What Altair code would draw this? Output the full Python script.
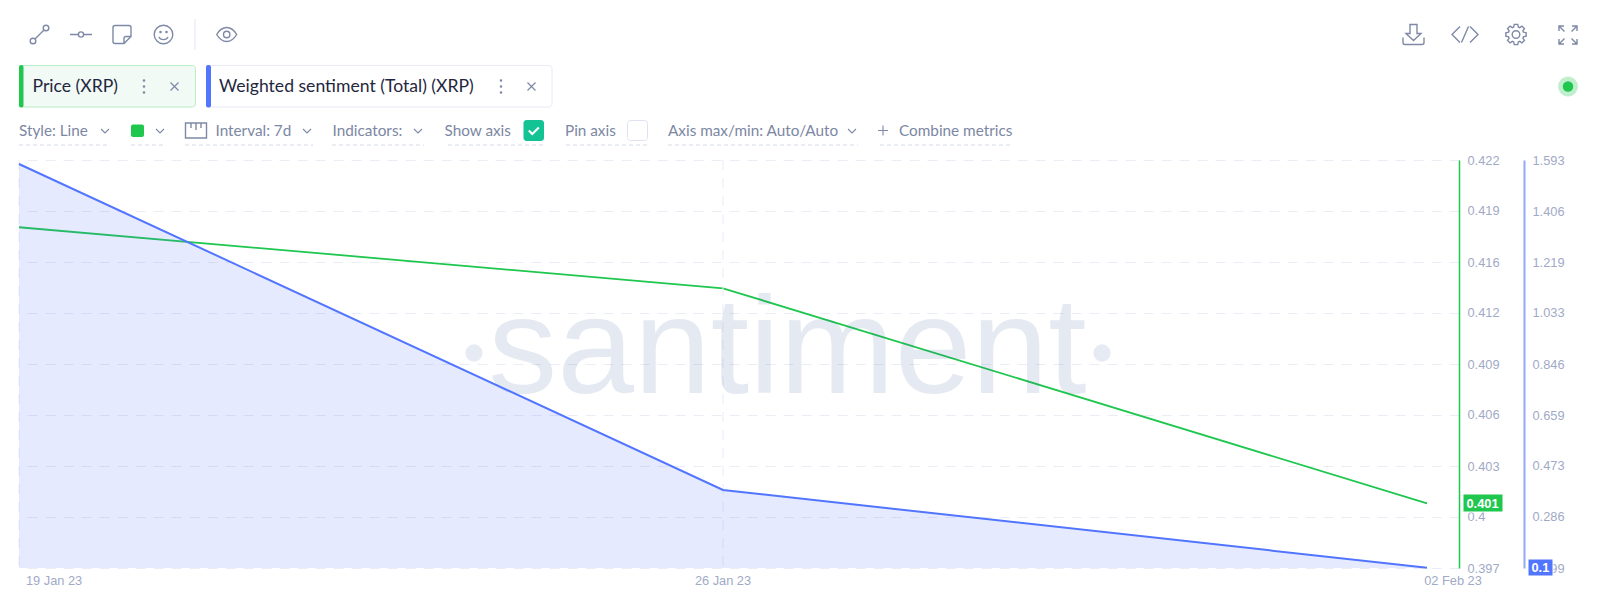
import math
import altair as alt
import pandas as pd

# ---------- data ----------
dates = ["2023-01-19T00:00:00Z", "2023-01-26T00:00:00Z", "2023-02-02T00:00:00Z"]
date_labels = ["19 Jan 23", "26 Jan 23", "02 Feb 23"]
price = [0.41768, 0.41394, 0.40076]
sentiment = [1.5784, 0.3846, 0.1]
price_ticks = [0.39680, 0.39993, 0.40305, 0.40618, 0.40930, 0.41243, 0.41555, 0.41868, 0.42180]
sentiment_ticks = [0.099, 0.286, 0.473, 0.659, 0.846, 1.033, 1.219, 1.406, 1.593]
price_last_label = "0.401"
sentiment_last_label = "0.1"

df = pd.DataFrame({"date": dates, "label": date_labels, "price": price, "sentiment": sentiment,
                   "base": [sentiment_ticks[0]] * len(dates)})
grid_df = pd.DataFrame({"date": dates[:2]})

GREEN = "#1fc74f"
BLUE = "#5275ff"
AXIS_TEXT = "#9faac6"
UI_TEXT = "#7c87a3"
DARK_TEXT = "#1f2740"
ICON = "#7e89a6"
GRID = "#eaecf6"
FONT = "Lato"
AXIS_FONT = "Liberation Sans"

OX, OY = 19, 160  # plot origin in reference pixels
W, H = 1440, 408
one = alt.Data(values=[{}])


def dt(y, m, d, h=0, mi=0):
    return alt.DateTime(year=y, month=m, date=d, hours=h, minutes=mi, utc=True)


x_domain = [dt(2023, 1, 19), dt(2023, 2, 2, 7, 38)]
x_scale = alt.Scale(type="utc", domain=x_domain)
x_none = alt.X("date:T", scale=x_scale, axis=None)
price_scale = alt.Scale(domain=[price_ticks[0], price_ticks[-1]], zero=False, nice=False)
sent_scale = alt.Scale(domain=[sentiment_ticks[0], sentiment_ticks[-1]], zero=False, nice=False)


# ---------- helpers for the surrounding app chrome ----------
def txt(x, y, s, color=UI_TEXT, size=15.3, font=FONT, align="left", **kw):
    return alt.Chart(one).mark_text(
        align=align, baseline="middle", font=font, fontSize=size, color=color, **kw
    ).encode(x=alt.value(x - OX), y=alt.value(y - OY), text=alt.value(s))


def box(x0, y0, x1, y1, fill="#ffffff", stroke=None, r=0, sw=1):
    kw = {"cornerRadius": r} if r else {}
    if stroke:
        kw.update(stroke=stroke, strokeWidth=sw)
    return alt.Chart(one).mark_rect(fill=fill, **kw).encode(
        x=alt.value(x0 - OX), x2=alt.value(x1 - OX),
        y=alt.value(y0 - OY), y2=alt.value(y1 - OY),
    )


def icon(x, y, path, color=ICON, sw=1.4, fill=None):
    kw = {"fill": fill, "filled": True} if fill else {"filled": False}
    return alt.Chart(one).mark_point(
        shape=path, size=4, stroke=color, strokeWidth=sw, opacity=1, **kw
    ).encode(x=alt.value(x - OX), y=alt.value(y - OY))


def dash(x0, x1, y=145):
    return alt.Chart(one).mark_rule(
        color="#d6daea", strokeWidth=1, strokeDash=[4, 3]
    ).encode(x=alt.value(x0 - OX), x2=alt.value(x1 - OX), y=alt.value(y - OY))


def c(x, y, r):
    return f"M{x - r} {y}a{r} {r} 0 1 0 {2 * r} 0a{r} {r} 0 1 0 {-2 * r} 0Z"


def gear(ro=10.3, ri=7.8, n=8):
    pts = []
    step = 2 * math.pi / n
    for i in range(n):
        a = i * step
        for da, r in ((-0.30, ri), (-0.17, ro), (0.17, ro), (0.30, ri)):
            pts.append((r * math.cos(a + da), r * math.sin(a + da)))
    return "M" + "L".join(f"{p[0]:.2f} {p[1]:.2f}" for p in pts) + "Z" + c(0, 0, 3.8)


CHEV = "M-4 -2L0 2L4 -2"
CROSS = "M-4 -4L4 4M4 -4L-4 4"
DOTS = c(0, -6, 0.6) + c(0, 0, 0.6) + c(0, 6, 0.6)

chrome = [
    # toolbar
    icon(39.5, 34.5, c(6.5, -6.5, 2.8) + c(-6.5, 6.5, 2.8) + "M-4.5 4.5L4.5 -4.5"),
    icon(81, 34.5, "M-11 0H-2.6M2.6 0H11" + c(0, 0, 2.6)),
    icon(122, 34.5, "M-7 -9H7a2 2 0 0 1 2 2V2L2 9H-7a2 2 0 0 1 -2 -2V-7a2 2 0 0 1 2 -2ZM9 2H4a2 2 0 0 0 -2 2V9"),
    icon(163.5, 34.5, c(0, 0, 9.3) + "M-4.5 2.5C-3 6 3 6 4.5 2.5" + c(-3, -2.5, 0.6) + c(3, -2.5, 0.6)),
    alt.Chart(one).mark_rule(color="#e4e7f1", strokeWidth=1).encode(
        x=alt.value(195 - OX), y=alt.value(19 - OY), y2=alt.value(50 - OY)),
    icon(226.7, 34.5, "M-10 0C-7 -5 -3 -7 0 -7S7 -5 10 0C7 5 3 7 0 7S-7 5 -10 0Z" + c(0, 0, 3.2)),
    icon(1413.5, 34.5, "M-3.5 -10H3.5V-1H7.5L0 6L-7.5 -1H-3.5ZM-10.5 3V8a2 2 0 0 0 2 2H8.5a2 2 0 0 0 2 -2V3"),
    icon(1465, 34.5, "M-5 -8L-13 0L-5 8M5 -8L13 0L5 8M3.5 -8L-3.5 8"),
    icon(1516, 34.5, gear()),
    icon(1568, 35, "M-9 -4V-9H-4M-9 -9L-3.5 -3.5M9 -4V-9H4M9 -9L3.5 -3.5M-9 4V9H-4M-9 9L-3.5 3.5M9 4V9H4M9 9L3.5 3.5"),
    # metric chips
    box(19.5, 65.5, 195.5, 107, fill="#f2faf6", stroke="#b6eec6", r=3, sw=1),
    box(19, 65, 23.5, 107.5, fill=GREEN, r=2),
    txt(32.5, 86.5, "Price (XRP)", color=DARK_TEXT, size=17.6),
    icon(144, 86.5, DOTS, sw=1.4),
    icon(174.5, 86.5, CROSS, sw=1.2),
    box(206.5, 65.5, 552, 107, fill="#ffffff", stroke="#e8eaf6", r=3, sw=1),
    box(206, 65, 211, 107.5, fill=BLUE, r=2),
    txt(219, 86.5, "Weighted sentiment (Total) (XRP)", color=DARK_TEXT, size=17.6),
    icon(501, 86.5, DOTS, sw=1.4),
    icon(531.5, 86.5, CROSS, sw=1.2),
    alt.Chart(one).mark_point(shape="circle", size=400, filled=True, color=GREEN, opacity=0.28).encode(
        x=alt.value(1568 - OX), y=alt.value(86.5 - OY)),
    alt.Chart(one).mark_point(shape="circle", size=110, filled=True, color=GREEN, opacity=1).encode(
        x=alt.value(1568 - OX), y=alt.value(86.5 - OY)),
    # settings row
    txt(19, 130.5, "Style: Line"),
    icon(105, 131, CHEV, sw=1.1),
    dash(19, 110),
    box(131, 124.5, 144, 137, fill=GREEN, r=2),
    icon(160, 131, CHEV, sw=1.1),
    dash(131, 165),
    icon(196, 130.5, "M-10.5 -7.5H10.5V7.5H-10.5ZM-5 -7.5V-2.5M0 -7.5V-0.5M5 -7.5V-2.5"),
    txt(215.5, 130.5, "Interval: 7d"),
    icon(307, 131, CHEV, sw=1.1),
    dash(185, 313),
    txt(332.5, 130.5, "Indicators:"),
    icon(418, 131, CHEV, sw=1.1),
    dash(332, 424),
    txt(444.5, 130.5, "Show axis"),
    box(523.5, 120, 544, 141, fill="#14c393", r=3),
    icon(533.8, 130.5, "M-5 0L-1.5 3.5L5 -3", color="#ffffff", sw=2),
    dash(448, 543),
    txt(565, 130.5, "Pin axis"),
    box(627.5, 120.5, 647.5, 140.5, fill="#ffffff", stroke="#dfe2f0", r=3),
    dash(566, 647),
    txt(668, 130.5, "Axis max/min: Auto/Auto"),
    icon(852, 131, CHEV, sw=1.1),
    dash(668, 858),
    icon(883, 130.5, "M-5 0H5M0 -5V5", sw=1.1),
    txt(899, 130.5, "Combine metrics"),
    dash(880, 1013),
]

# ---------- plot ----------
vgrid = alt.Chart(grid_df).mark_rule(color=GRID, strokeWidth=1, strokeDash=[10, 8]).encode(x=x_none)

watermark = [
    alt.Chart(one).mark_text(
        font="Liberation Sans", fontSize=138, align="center", baseline="alphabetic",
        color="#2f5597", opacity=0.12,
    ).encode(x=alt.value(787.5 - OX), y=alt.value(393 - OY), text=alt.value("santiment")),
    alt.Chart(one).mark_point(shape="circle", size=300, filled=True, color="#2f5597", opacity=0.12).encode(
        x=alt.value(474 - OX), y=alt.value(353 - OY)),
    alt.Chart(one).mark_point(shape="circle", size=300, filled=True, color="#2f5597", opacity=0.12).encode(
        x=alt.value(1102 - OX), y=alt.value(353 - OY)),
]

axis_common = dict(
    title=None, orient="right", ticks=False,
    labelFont=AXIS_FONT, labelFontSize=12.8, labelColor=AXIS_TEXT, labelPadding=8,
    domainOpacity=1,
)

price_line = alt.Chart(df).mark_line(color=GREEN, strokeWidth=1.8).encode(
    x=x_none,
    y=alt.Y("price:Q", scale=price_scale, axis=alt.Axis(
        values=price_ticks, format=".3~f", domainColor=GREEN, domainWidth=1.5,
        grid=True, gridColor=GRID, gridDash=[10, 8], gridWidth=1, **axis_common)),
)
sent_area = alt.Chart(df).mark_area(color=BLUE, opacity=0.15).encode(
    x=x_none,
    y=alt.Y("sentiment:Q", scale=sent_scale, axis=None),
    y2="base:Q",
)
sent_line = alt.Chart(df).mark_line(color=BLUE, strokeWidth=2).encode(
    x=x_none,
    y=alt.Y("sentiment:Q", scale=sent_scale, axis=alt.Axis(
        values=sentiment_ticks, format=".3f", domainColor="#93a8fa", domainWidth=2,
        grid=False, offset=65, **axis_common)),
)


def x_label(i, align, dx):
    return alt.Chart(df.iloc[[i]]).mark_text(
        font=AXIS_FONT, fontSize=12.8, color=AXIS_TEXT, align=align, baseline="middle", dx=dx,
    ).encode(x=x_none, y=alt.value(H + 13), text="label:N")


x_labels = [x_label(0, "left", 7), x_label(1, "center", 0), x_label(2, "center", 26)]

tags = [
    box(1463, 494, 1503, 512, fill=GREEN, stroke="#ffffff"),
    txt(1466.5, 503.5, price_last_label, color="#ffffff", size=12.8, font=AXIS_FONT, fontWeight="bold"),
    box(1528, 559, 1553, 576, fill=BLUE, stroke="#ffffff"),
    txt(1531.5, 568, sentiment_last_label, color="#ffffff", size=12.8, font=AXIS_FONT, fontWeight="bold"),
]

chart = alt.layer(
    price_line, vgrid, *watermark, sent_area, sent_line, *x_labels, *tags, *chrome
).resolve_scale(y="independent").properties(
    width=W, height=H,
    autosize=alt.AutoSizeParams(type="none"),
    padding={"left": OX - 8, "top": OY - 8, "right": 1600 - OX - W - 16, "bottom": 606 - OY - H - 16},
    background="#ffffff",
).configure_view(stroke=None)

chart.save("out.html", embed_options={"renderer": "svg", "actions": False})
